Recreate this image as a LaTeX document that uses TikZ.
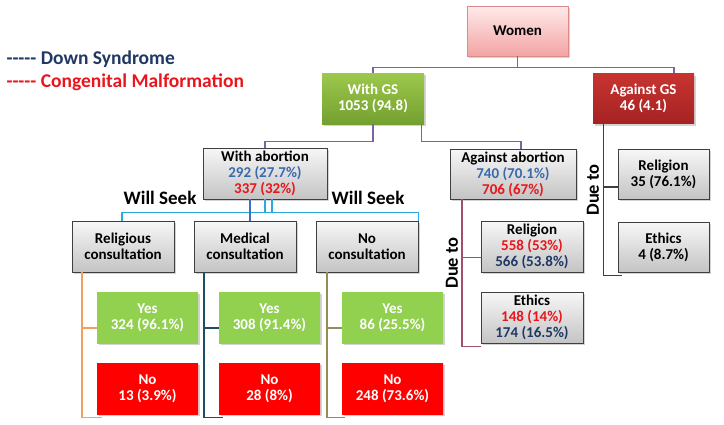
\documentclass[tikz,border=0pt]{standalone}
\usepackage{fontspec}
\setmainfont{Carlito}
\usetikzlibrary{shadows}
\definecolor{navy}{HTML}{1F3864}
\definecolor{dsblue}{HTML}{3A69AE}
\definecolor{cmred}{HTML}{E8161C}
\definecolor{greytop}{HTML}{F7F7F7}
\definecolor{greybot}{HTML}{C4C4C4}
\definecolor{greyline}{HTML}{3F3F3F}
\definecolor{pinktop}{HTML}{FFEAEA}
\definecolor{pinkbot}{HTML}{F3A3A3}
\definecolor{pinkline}{HTML}{D98A8A}
\definecolor{gstop}{HTML}{9CC84C}
\definecolor{gsbot}{HTML}{74A030}
\definecolor{agtop}{HTML}{C73430}
\definecolor{agbot}{HTML}{A62222}
\definecolor{yesgreen}{HTML}{92D050}
\definecolor{nored}{HTML}{FF0000}
\definecolor{violet}{HTML}{7F62A6}
\definecolor{cyanline}{HTML}{2AA8E0}
\definecolor{seekblue}{HTML}{3C6FC2}
\definecolor{orangeline}{HTML}{F5A05A}
\definecolor{tealline}{HTML}{1E4E62}
\definecolor{oliveline}{HTML}{968C58}
\definecolor{mauve}{HTML}{A0506E}
\tikzset{
  box/.style={
    draw=greyline,
    line width=0.8pt,
    top color=greytop,
    bottom color=greybot,
    minimum width=102pt,
    minimum height=51pt,
    inner sep=1pt,
    align=center,
    font=\bfseries\fontsize{15}{16}\selectfont,
    drop shadow={shadow xshift=2pt, shadow yshift=-2pt, opacity=0.35}
  },
  rootbox/.style={box, draw=pinkline, top color=pinktop, bottom color=pinkbot},
  withbox/.style={box, draw=none, top color=gstop, bottom color=gsbot, text=white},
  againstbox/.style={box, draw=none, top color=agtop, bottom color=agbot, text=white},
  yesbox/.style={box, draw=none, top color=yesgreen, bottom color=yesgreen, text=white},
  nobox/.style={box, draw=none, top color=nored, bottom color=nored, text=white},
  link/.style={line width=1.8pt},
  seek/.style={font=\bfseries\fontsize{19}{21}\selectfont},
  dueto/.style={font=\bfseries\fontsize{18.5}{20}\selectfont, rotate=90},
  legend/.style={anchor=west, font=\bfseries\fontsize{19.5}{21}\selectfont}
}
\begin{document}
\begin{tikzpicture}[x=1pt, y=-1pt]
  \useasboundingbox (0,0) rectangle (724,424);

  % legend
  \node[legend, text=navy] (lgds) at (3,59) {-{}-{}-{}-{}- Down Syndrome};
  \node[legend, text=cmred] (lgcm) at (3,82) {-{}-{}-{}-{}- Congenital Malformation};

  % top levels
  \node[rootbox, minimum width=101pt, minimum height=50pt] (women) at (517.5,31) {Women};
  \node[withbox] (withgs) at (373,98.5) {With GS\\1053 (94.8)};
  \node[againstbox, minimum width=101pt, minimum height=50pt] (againstgs) at (643.5,98.5)
    {Against GS\\46 (4.1)};

  \node[box, minimum width=124pt] (withab) at (265,173.5)
    {With abortion\\\textcolor{dsblue}{292 (27.7\%)}\\\textcolor{cmred}{337 (32\%)}};
  \node[box, minimum width=126pt, minimum height=50pt] (againstab) at (513,174)
    {Against abortion\\\textcolor{dsblue}{740 (70.1\%)}\\\textcolor{cmred}{706 (67\%)}};

  \node[box, minimum width=91pt, minimum height=50pt] (religiongs) at (663.5,174)
    {Religion\\35 (76.1\%)};
  \node[box, minimum width=91pt, minimum height=50pt] (ethicsgs) at (663.5,247)
    {Ethics\\4 (8.7\%)};

  \node[box] (religionab) at (532,246.5)
    {Religion\\\textcolor{cmred}{558 (53\%)}\\\textcolor{navy}{566 (53.8\%)}};
  \node[box] (ethicsab) at (532,317.5)
    {Ethics\\\textcolor{cmred}{148 (14\%)}\\\textcolor{navy}{174 (16.5\%)}};

  % consultations
  \node[box] (religious) at (123,246.5) {Religious\\consultation};
  \node[box] (medical) at (245,246.5) {Medical\\consultation};
  \node[box] (noconsult) at (367,246.5) {No\\consultation};

  \node[yesbox, minimum width=101pt] (yesrel) at (147.5,317.5) {Yes\\324 (96.1\%)};
  \node[nobox, minimum width=101pt] (norel) at (147.5,388.5) {No\\13 (3.9\%)};
  \node[yesbox, minimum width=101pt] (yesmed) at (269.5,317.5) {Yes\\308 (91.4\%)};
  \node[nobox, minimum width=101pt] (nomed) at (269.5,388.5) {No\\28 (8\%)};
  \node[yesbox, minimum width=101pt] (yesno) at (392.5,317.5) {Yes\\86 (25.5\%)};
  \node[nobox, minimum width=101pt] (nono) at (392.5,388.5) {No\\248 (73.6\%)};

  \node[seek] (seekleft) at (160,198) {Will Seek};
  \node[seek] (seekright) at (368,198) {Will Seek};
  \node[dueto] (duegs) at (593,190) {Due to};
  \node[dueto] (dueab) at (452,263) {Due to};

  % women to GS
  \coordinate (wjoin) at ([yshift=-11pt]women.south);
  \draw[link, violet] (women.south) -- (wjoin);
  \draw[link, violet] (withgs.north) |- (wjoin) -| ([xshift=30.5pt]againstgs.north);

  % GS to abortion
  \draw[link, violet] (withgs.south) -- ++(0,17) -| (withab.north);
  \draw[link, violet] ([xshift=-3pt]withgs.south east) -- ++(0,17) -| ([xshift=8pt]againstab.north);

  % against GS reasons
  \coordinate (gsend) at ([xshift=4pt, yshift=-3pt]ethicsgs.south west);
  \draw[link, greyline] ([xshift=-40pt]againstgs.south) |- (gsend);
  \draw[link, greyline] ([yshift=-13pt]religiongs.west) -- ++(-15,0);

  % against abortion reasons
  \coordinate (abend) at ([yshift=-3pt]ethicsab.south west);
  \draw[link, mauve] ([xshift=12pt]againstab.south west) |- (abend);
  \draw[link, mauve] ([yshift=-11pt]religionab.west) -- ++(-19,0);

  % with abortion to consultations
  \coordinate (cjoin) at ([yshift=-13pt]withab.south);
  \draw[link, cyanline] ([xshift=-1pt]religious.north) |- (cjoin) -| (noconsult.north east);
  \draw[link, cyanline] (withab.south) -- (cjoin);
  \draw[link, cyanline] ([xshift=7pt]withab.south) -- ++(0,13);
  \draw[link, seekblue] ([xshift=-15pt]withab.south) -- ([xshift=5pt]medical.north);

  % consultation outcomes
  \coordinate (relend) at ([xshift=5pt, yshift=-3pt]norel.south west);
  \draw[link, orangeline] ([xshift=10pt]religious.south west) |- (relend);
  \draw[link, orangeline] ([yshift=-10.5pt]yesrel.west) -- ++(-15,0);

  \coordinate (medend) at ([xshift=4pt, yshift=-3pt]nomed.south west);
  \draw[link, tealline] ([xshift=10pt]medical.south west) |- (medend);
  \draw[link, tealline] ([yshift=-10.5pt]yesmed.west) -- ++(-15,0);

  \coordinate (noend) at ([xshift=3pt, yshift=-3pt]nono.south west);
  \draw[link, oliveline] ([xshift=11pt]noconsult.south west) |- (noend);
  \draw[link, oliveline] ([yshift=-10.5pt]yesno.west) -- ++(-15,0);
\end{tikzpicture}
\end{document}
